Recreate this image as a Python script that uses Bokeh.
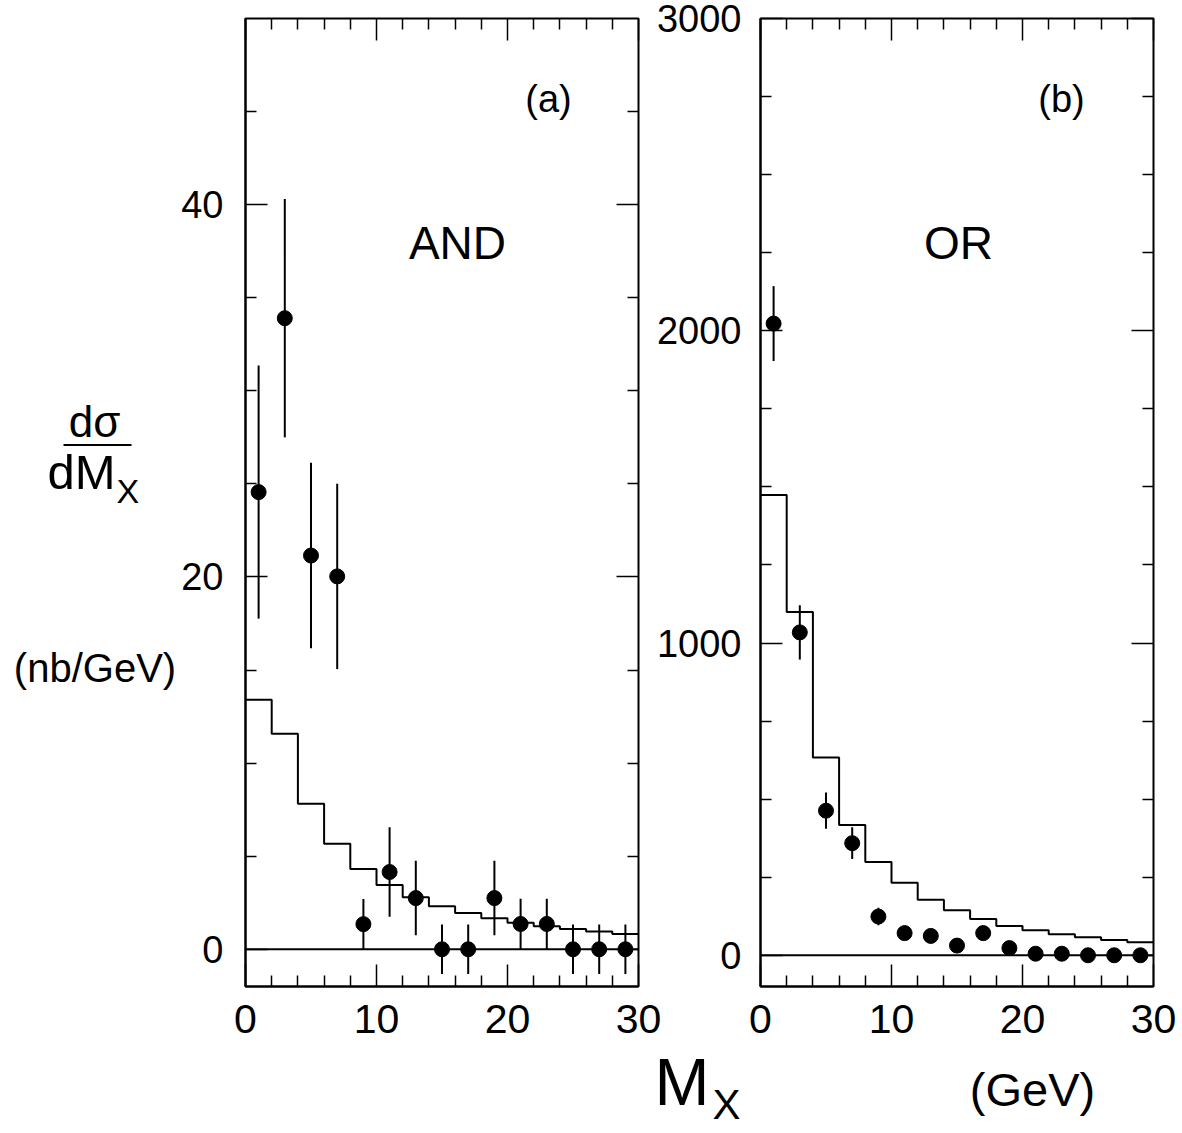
from bokeh.plotting import figure
from bokeh.models import (Range1d, LinearAxis, FixedTicker, Label, Span, ColumnDataSource)
from bokeh.layouts import row, column
from bokeh.embed import file_html
from bokeh.resources import INLINE
from bokeh.core.properties import value

# ---------------- data ----------------
mx = [1, 3, 5, 7, 9, 11, 13, 15, 17, 19, 21, 23, 25, 27, 29]
bin_edges = [0, 2, 4, 6, 8, 10, 12, 14, 16, 18, 20, 22, 24, 26, 28, 30]

and_y = [24.56, 33.9, 21.15, 20.03, 1.35, 4.15, 2.75, 0.0, 0.0, 2.75, 1.36, 1.36, 0.0, 0.0, 0.0]
and_err = [6.8, 6.4, 4.98, 4.98, 1.35, 2.4, 2.0, 1.33, 1.33, 2.0, 1.36, 1.36, 1.33, 1.33, 1.33]
and_mc = [13.4, 11.58, 7.82, 5.67, 4.31, 3.45, 2.79, 2.31, 1.95, 1.66, 1.43, 1.23, 1.09, 0.95, 0.82]

or_y = [2023, 1034, 463, 359, 124, 71, 62, 31, 71, 23, 5, 5, 0, 0, 0]
or_err = [120, 87, 58, 51, 28, 18, 18, 15, 18, 12, 8, 8, 6, 6, 6]
or_mc = [1474, 1099, 633, 417, 299, 232, 178, 144, 116, 94, 80, 67, 58, 49, 42]

x_major = [0, 10, 20, 30]
x_minor = [2, 4, 6, 8, 12, 14, 16, 18, 22, 24, 26, 28]
and_y_major = [0, 20, 40]
and_y_minor = [5, 10, 15, 25, 30, 35, 45]
or_y_major = [0, 1000, 2000, 3000]
or_y_minor = [250, 500, 750, 1250, 1500, 1750, 2250, 2500, 2750]

FONT = "Liberation Sans"
FONT_V = value(FONT)
W, H = 1180, 1130


def style_axis(ax, ticker, fs, standoff):
    ax.ticker = ticker
    ax.axis_line_width = 2
    ax.axis_line_color = "black"
    ax.major_tick_in = 22
    ax.major_tick_out = 0
    ax.minor_tick_in = 11
    ax.minor_tick_out = 0
    ax.major_tick_line_width = 1.5
    ax.minor_tick_line_width = 1.5
    ax.major_tick_line_color = "black"
    ax.minor_tick_line_color = "black"
    ax.major_label_text_font = FONT
    ax.major_label_text_color = "black"
    ax.major_label_text_font_size = fs
    ax.major_label_standoff = standoff


def mirror_axis(p, place, positions, length):
    # tick marks only: no major ticks -> no labels at all
    ax = LinearAxis(ticker=FixedTicker(ticks=[], minor_ticks=positions))
    ax.axis_line_color = None
    ax.major_tick_line_color = None
    ax.minor_tick_in = length
    ax.minor_tick_out = 0
    ax.minor_tick_line_width = 1.5
    ax.minor_tick_line_color = "black"
    ax.major_label_standoff = 0
    p.add_layout(ax, place)


def make_panel(width, border_left, yr, y_major, y_minor, y_standoff,
               y_vals, y_err, mc, tag, name, tag_pos, name_pos):
    p = figure(width=width, height=H, x_range=Range1d(0, 30), y_range=yr,
               output_backend="svg", toolbar_location=None,
               min_border_left=border_left, min_border_right=27,
               min_border_top=18, min_border_bottom=144)
    p.grid.visible = False
    p.outline_line_color = "black"
    p.outline_line_width = 2
    p.border_fill_color = None
    p.background_fill_color = None

    style_axis(p.xaxis[0], FixedTicker(ticks=x_major, minor_ticks=x_minor), "41px", 18)
    style_axis(p.yaxis[0], FixedTicker(ticks=y_major, minor_ticks=y_minor), "38px", y_standoff)
    mirror_axis(p, "right", y_major, 22)
    mirror_axis(p, "right", y_minor, 11)
    mirror_axis(p, "above", x_major, 22)
    mirror_axis(p, "above", x_minor, 11)

    p.add_layout(Span(location=0, dimension="width", line_color="black", line_width=2))

    # MC histogram
    p.step(x=bin_edges, y=list(mc) + [mc[-1]], mode="after",
           line_color="black", line_width=2)

    src = ColumnDataSource(dict(x=mx, y=y_vals,
                                lo=[v - e for v, e in zip(y_vals, y_err)],
                                hi=[v + e for v, e in zip(y_vals, y_err)]))
    p.segment(x0="x", y0="lo", x1="x", y1="hi", source=src,
              line_color="black", line_width=2)
    p.scatter(x="x", y="y", source=src, size=15, marker="circle",
              fill_color="black", line_color="black")

    p.add_layout(Label(x=tag_pos[0], y=tag_pos[1], text=tag, text_font=FONT,
                       text_font_size="38px", text_align="center",
                       text_baseline="alphabetic", text_color="black"))
    p.add_layout(Label(x=name_pos[0], y=name_pos[1], text=name, text_font=FONT,
                       text_font_size="46px", text_align="center",
                       text_baseline="alphabetic", text_color="black"))
    return p


p1 = make_panel(665, 245, Range1d(-2, 50), and_y_major, and_y_minor, 22,
                and_y, and_err, and_mc, "(a)", "AND", (23.13, 45.69), (16.18, 37.94))
p2 = make_panel(537, 117, Range1d(-100, 3000), or_y_major, or_y_minor, 19,
                or_y, or_err, or_mc, "(b)", "OR", (22.98, 2743), (15.11, 2281))
p2.margin = (0, 0, 0, -22)

# ---------------- background canvas for the axis titles ----------------
bg = figure(width=W, height=H, x_range=Range1d(0, W), y_range=Range1d(H, 0),
            output_backend="svg", toolbar_location=None, min_border=0,
            x_axis_location=None, y_axis_location=None)
bg.grid.visible = False
bg.outline_line_color = None


def title_text(x, y, txt, size, align):
    bg.text(x=[x], y=[y], text=[txt], text_font_size=size, text_align=align,
            text_baseline="alphabetic", text_color="black", text_font=FONT_V)


title_text(94, 421, "dσ", "44px", "center")
bg.segment(x0=[63], y0=[444.6], x1=[131], y1=[444.6], line_color="black", line_width=2)
title_text(47, 471, "dM", "49px", "left")
title_text(116, 490.5, "X", "34px", "left")
title_text(94.5, 667.5, "(nb/GeV)", "40px", "center")
title_text(654, 1081.5, "M", "66px", "left")
title_text(712, 1104, "X", "42px", "left")
title_text(1032, 1089, "(GeV)", "47px", "center")

panels = row(p1, p2)
panels.margin = (-H, 0, 0, 0)
layout = column(bg, panels)
open("out.html", "w").write(file_html(layout, INLINE))
